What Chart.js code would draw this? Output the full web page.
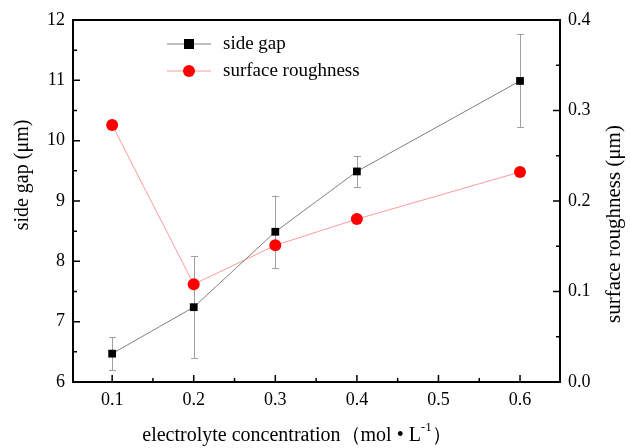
<!DOCTYPE html>
<html>
<head>
<meta charset="utf-8">
<script src="https://cdn.jsdelivr.net/npm/chart.js@4/dist/chart.umd.min.js"></script>
<style>
html,body{margin:0;padding:0;background:#fff;}
canvas{display:block;}
</style>
</head>
<body>
<canvas id="c" width="630" height="448"></canvas>
<script>
const concentrations = [0.1, 0.2, 0.3, 0.4, 0.6];
const sideGap = [6.47, 7.24, 8.49, 9.49, 10.99];
const sideGapErr = [0.27, 0.85, 0.60, 0.26, 0.77];
const roughness = [0.284, 0.108, 0.151, 0.180, 0.232];
const xTicks = [0.1, 0.2, 0.3, 0.4, 0.5, 0.6];
const xMinor = [0.15, 0.25, 0.35, 0.45, 0.55];
const yLeftTicks = [6, 7, 8, 9, 10, 11, 12];
const yLeftMinor = [6.5, 7.5, 8.5, 9.5, 10.5, 11.5];
const yRightTicks = [0.0, 0.1, 0.2, 0.3, 0.4];
const yRightMinor = [0.05, 0.15, 0.25, 0.35];
const seriesNames = ['side gap', 'surface roughness'];
const titles = {
  yLeft: 'side gap (\u03bcm)',
  yRight: 'surface roughness (\u03bcm)',
  xMain: 'electrolyte concentration\uff08mol \u2022 L',
  xSup: '-1',
  xEnd: '\uff09'
};

const FONT = '"Liberation Serif", "Times New Roman", serif';

const framePlugin = {
  id: 'frame',
  beforeDatasetsDraw(chart) {
    const ctx = chart.ctx;
    const xs = chart.scales.x, y = chart.scales.y;
    ctx.save();
    ctx.strokeStyle = '#a0a0a0';
    ctx.lineWidth = 1;
    for (let i = 0; i < concentrations.length; i++) {
      const px = Math.round(xs.getPixelForValue(concentrations[i])) + 0.5;
      const top = y.getPixelForValue(sideGap[i] + sideGapErr[i]);
      const bot = y.getPixelForValue(sideGap[i] - sideGapErr[i]);
      ctx.beginPath();
      ctx.moveTo(px, top); ctx.lineTo(px, bot);
      ctx.moveTo(px - 3.5, Math.round(top) + 0.5); ctx.lineTo(px + 3.5, Math.round(top) + 0.5);
      ctx.moveTo(px - 3.5, Math.round(bot) + 0.5); ctx.lineTo(px + 3.5, Math.round(bot) + 0.5);
      ctx.stroke();
    }
    ctx.restore();
  },
  afterDraw(chart) {
    const ctx = chart.ctx;
    const a = chart.chartArea;
    const xs = chart.scales.x, y = chart.scales.y, y2 = chart.scales.y2;
    ctx.save();
    ctx.strokeStyle = '#000';
    ctx.lineWidth = 2;
    ctx.strokeRect(a.left, a.top, a.right - a.left, a.bottom - a.top);
    ctx.lineWidth = 1.5;
    ctx.beginPath();
    xTicks.forEach(v => { const p = xs.getPixelForValue(v); ctx.moveTo(p, a.bottom); ctx.lineTo(p, a.bottom - 7); });
    xMinor.forEach(v => { const p = xs.getPixelForValue(v); ctx.moveTo(p, a.bottom); ctx.lineTo(p, a.bottom - 4); });
    yLeftTicks.forEach(v => { const p = y.getPixelForValue(v); ctx.moveTo(a.left, p); ctx.lineTo(a.left + 7, p); });
    yLeftMinor.forEach(v => { const p = y.getPixelForValue(v); ctx.moveTo(a.left, p); ctx.lineTo(a.left + 4, p); });
    yRightTicks.forEach(v => { const p = y2.getPixelForValue(v); ctx.moveTo(a.right, p); ctx.lineTo(a.right - 7, p); });
    yRightMinor.forEach(v => { const p = y2.getPixelForValue(v); ctx.moveTo(a.right, p); ctx.lineTo(a.right - 4, p); });
    ctx.stroke();

    // legend
    const lx0 = 167, lx1 = 211, lm = 189, ly = [44, 71];
    ctx.lineWidth = 1;
    ctx.strokeStyle = '#808080';
    ctx.beginPath(); ctx.moveTo(lx0, ly[0]); ctx.lineTo(lx1, ly[0]); ctx.stroke();
    ctx.fillStyle = '#000';
    ctx.fillRect(lm - 5, ly[0] - 5, 10, 10);
    ctx.strokeStyle = '#ff9a9a';
    ctx.beginPath(); ctx.moveTo(lx0, ly[1]); ctx.lineTo(lx1, ly[1]); ctx.stroke();
    ctx.fillStyle = '#ff0000';
    ctx.beginPath(); ctx.arc(lm, ly[1], 6, 0, Math.PI * 2); ctx.fill();
    ctx.fillStyle = '#000';
    ctx.font = '19px ' + FONT;
    ctx.textAlign = 'left';
    ctx.textBaseline = 'middle';
    ctx.fillText(seriesNames[0], 223, ly[0]);
    ctx.fillText(seriesNames[1], 223, ly[1]);

    // axis titles
    ctx.textAlign = 'center';
    ctx.save();
    ctx.font = '20px ' + FONT;
    ctx.translate(23, 175);
    ctx.rotate(-Math.PI / 2);
    ctx.fillText(titles.yLeft, 0, 0);
    ctx.restore();
    ctx.save();
    ctx.font = '21px ' + FONT;
    ctx.translate(614, 224);
    ctx.rotate(-Math.PI / 2);
    ctx.fillText(titles.yRight, 0, 0);
    ctx.restore();

    // x title with superscript
    ctx.textAlign = 'left';
    const mainFont = '20px ' + FONT, supFont = '13px ' + FONT;
    ctx.font = mainFont; const w1 = ctx.measureText(titles.xMain).width;
    ctx.font = supFont; const w2 = ctx.measureText(titles.xSup).width;
    ctx.font = mainFont; const w3 = ctx.measureText(titles.xEnd).width;
    let x = 297 - (w1 + w2 + w3) / 2;
    const yb = 436;
    ctx.font = mainFont; ctx.fillText(titles.xMain, x, yb); x += w1;
    ctx.font = supFont; ctx.fillText(titles.xSup, x, yb - 8); x += w2;
    ctx.font = mainFont; ctx.fillText(titles.xEnd, x, yb);
    ctx.restore();
  }
};

new Chart(document.getElementById('c'), {
  type: 'line',
  data: {
    datasets: [
      {
        label: seriesNames[0],
        data: concentrations.map((c, i) => ({ x: c, y: sideGap[i] })),
        yAxisID: 'y',
        borderColor: '#808080',
        borderWidth: 1,
        pointStyle: 'rect',
        pointRadius: 5.5,
        pointBackgroundColor: '#000',
        pointBorderColor: '#000',
        pointBorderWidth: 0,
        tension: 0
      },
      {
        label: seriesNames[1],
        data: concentrations.map((c, i) => ({ x: c, y: roughness[i] })),
        yAxisID: 'y2',
        borderColor: '#ff9a9a',
        borderWidth: 1,
        pointStyle: 'circle',
        pointRadius: 6,
        pointBackgroundColor: '#ff0000',
        pointBorderColor: '#ff0000',
        pointBorderWidth: 0,
        tension: 0
      }
    ]
  },
  options: {
    responsive: false,
    animation: false,
    devicePixelRatio: 1,
    layout: { padding: { top: 20, left: 0, right: 0, bottom: 0 } },
    plugins: { legend: { display: false }, tooltip: { enabled: false } },
    scales: {
      x: {
        type: 'linear', min: 0.052, max: 0.649,
        afterBuildTicks: s => { s.ticks = xTicks.map(v => ({ value: v })); },
        afterFit: s => { s.height = 66; },
        grid: { display: false, drawTicks: false },
        border: { display: false },
        ticks: { color: '#000', font: { family: FONT, size: 18 }, padding: 7, maxRotation: 0, callback: v => Number(v).toFixed(1) }
      },
      y: {
        type: 'linear', position: 'left', min: 6, max: 12,
        afterBuildTicks: s => { s.ticks = yLeftTicks.map(v => ({ value: v })); },
        afterFit: s => { s.width = 73; },
        grid: { display: false, drawTicks: false },
        border: { display: false },
        ticks: { color: '#000', font: { family: FONT, size: 18 }, padding: 8, callback: v => String(v) }
      },
      y2: {
        type: 'linear', position: 'right', min: 0, max: 0.4,
        afterBuildTicks: s => { s.ticks = yRightTicks.map(v => ({ value: v })); },
        afterFit: s => { s.width = 70; },
        grid: { display: false, drawTicks: false },
        border: { display: false },
        ticks: { color: '#000', font: { family: FONT, size: 18 }, padding: 8, callback: v => Number(v).toFixed(1) }
      }
    }
  },
  plugins: [framePlugin]
});
</script>
</body>
</html>
